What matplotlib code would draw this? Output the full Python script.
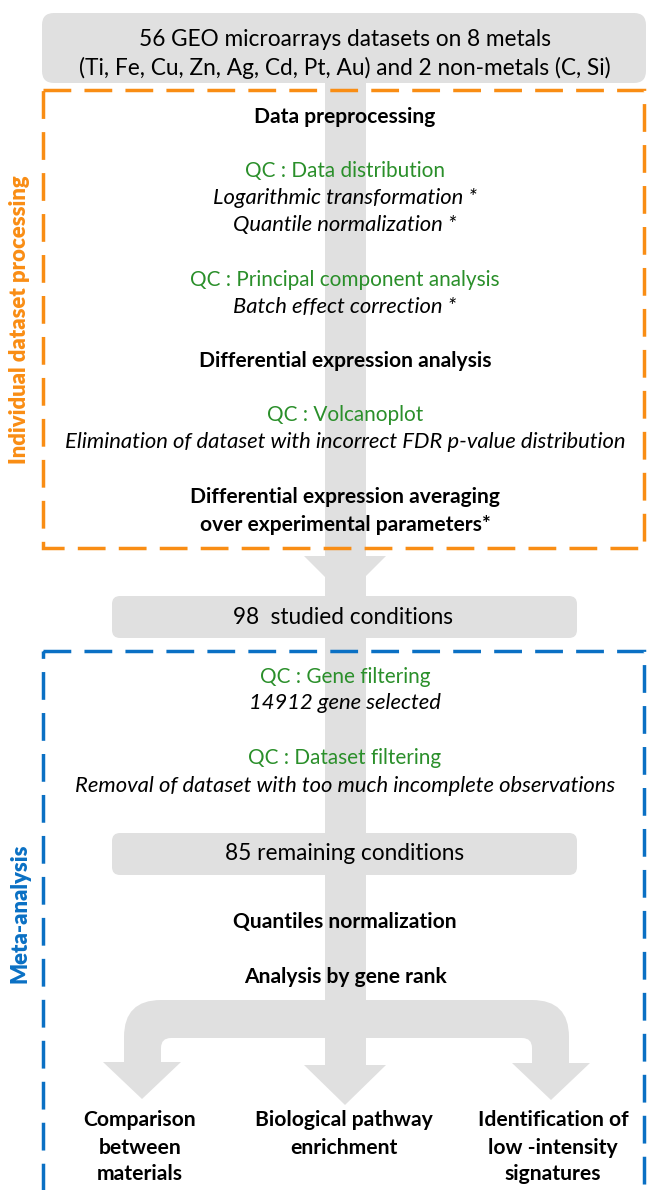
import matplotlib
matplotlib.use("Agg")
import matplotlib.pyplot as plt
from matplotlib.patches import FancyBboxPatch, Rectangle, Polygon, PathPatch
from matplotlib.path import Path

# ---------------- content ----------------
top_lines = ["56 GEO microarrays datasets on 8 metals",
             "(Ti, Fe, Cu, Zn, Ag, Cd, Pt, Au) and 2 non-metals (C, Si)"]
orange_lines = [("Data preprocessing", "bold"),
                ("QC : Data distribution", "qc"),
                ("Logarithmic transformation *", "it"),
                ("Quantile normalization *", "it"),
                ("QC : Principal component analysis", "qc"),
                ("Batch effect correction *", "it"),
                ("Differential expression analysis", "bold"),
                ("QC : Volcanoplot", "qc"),
                ("Elimination of dataset with incorrect FDR p-value distribution", "it"),
                ("Differential expression averaging", "bold"),
                ("over experimental parameters*", "bold")]
orange_y = [117, 171, 198, 225, 280, 307, 361, 415, 442, 497, 525]
mid_box_text = "98  studied conditions"
blue_lines = [("QC : Gene filtering", "qc"),
              ("14912 gene selected", "it"),
              ("QC : Dataset filtering", "qc"),
              ("Removal of dataset with too much incomplete observations", "it"),
              ("Quantiles normalization", "bold"),
              ("Analysis by gene rank", "bold")]
blue_y = [677, 703, 758, 786, 922, 977]
low_box_text = "85 remaining conditions"
outcomes = [["Comparison", "between", "materials"],
            ["Biological pathway", "enrichment"],
            ["Identification of", "low -intensity", "signatures"]]
outcome_x = [140, 344, 553]
outcome_y = [1120, 1148, 1174]
side_labels = ["Individual dataset processing", "Meta-analysis"]

# ---------------- style ----------------
FONT = "Lato"
GRAY = "#e0e0e0"
ORANGE = "#f98d14"
BLUE = "#0a70c4"
GREEN = "#2a8f2a"
BLACK = "#000000"
CX = 345

plt.rcParams['font.family'] = [FONT, 'DejaVu Sans']
plt.rcParams['lines.scale_dashes'] = False

fig = plt.figure(figsize=(6.48, 11.9), dpi=100)
ax = fig.add_axes([0, 0, 1, 1])
ax.set_xlim(0, 648)
ax.set_ylim(1190, 0)
ax.axis('off')
fig.canvas.draw()
renderer = fig.canvas.get_renderer()


def fit(text, target_px, **kw):
    t = ax.text(0, 0, text, fontsize=20, **kw)
    w = t.get_window_extent(renderer).width
    t.remove()
    return 20 * target_px / w


size_top = fit(top_lines[1], 532)
size_it = fit(orange_lines[8][0], 560, style='italic')
size_qc = fit(orange_lines[4][0], 311)
size_bold = fit(orange_lines[6][0], 292, weight='bold')
size_box = fit(low_box_text, 240)
size_out = fit(outcomes[1][0], 178, weight='bold')
size_side = fit(side_labels[0], 290, weight='heavy')

styles = {"bold": dict(weight='bold', color=BLACK, fontsize=size_bold),
          "qc": dict(color=GREEN, fontsize=size_qc),
          "it": dict(style='italic', color=BLACK, fontsize=size_it)}

# ---------------- shapes ----------------
# central stem
ax.add_patch(Rectangle((325, 80), 41, 1066 - 80, facecolor=GRAY, edgecolor='none', zorder=1))
# arrow head into "98 studied conditions"
ax.add_patch(Polygon([(304, 556), (386, 556), (345, 597)], closed=True,
                     facecolor=GRAY, edgecolor='none', zorder=1))
# branch
verts = [(124, 1063), (124, 1037), (124, 1000), (161, 1000), (532, 1000),
         (569, 1000), (569, 1037), (569, 1063), (532, 1063), (532, 1048),
         (532, 1038), (522, 1038), (171, 1038), (161, 1038), (161, 1048),
         (161, 1063), (124, 1063)]
codes = [Path.MOVETO, Path.LINETO, Path.CURVE3, Path.CURVE3, Path.LINETO,
         Path.CURVE3, Path.CURVE3, Path.LINETO, Path.LINETO, Path.LINETO,
         Path.CURVE3, Path.CURVE3, Path.LINETO, Path.CURVE3, Path.CURVE3,
         Path.LINETO, Path.CLOSEPOLY]
ax.add_patch(PathPatch(Path(verts, codes), facecolor=GRAY, edgecolor='none', zorder=1))
for (l, r, top, tip) in [(103, 181, 1062, 1099), (304, 386, 1065, 1105), (512, 590, 1063, 1100)]:
    ax.add_patch(Polygon([(l, top), (r, top), ((l + r) / 2, tip)], closed=True,
                         facecolor=GRAY, edgecolor='none', zorder=1))

# rounded boxes
for (x0, y0, x1, y1, rad) in [(42, 13, 646, 83, 12), (112, 596, 577, 638, 8), (112, 833, 577, 875, 8)]:
    ax.add_patch(FancyBboxPatch((x0 + rad, y0 + rad), x1 - x0 - 2 * rad, y1 - y0 - 2 * rad,
                                boxstyle=f"round,pad={rad}", facecolor=GRAY,
                                edgecolor='none', zorder=2))

# dashed frames
ax.add_patch(Rectangle((43, 90), 601, 458, fill=False, edgecolor=ORANGE, lw=2.5,
                       linestyle=(0, (20, 9.5)), zorder=3))
ax.add_patch(Rectangle((43, 651), 601, 560, fill=False, edgecolor=BLUE, lw=2.5,
                       linestyle=(0, (20, 9.5)), zorder=3, clip_on=True))

# ---------------- text ----------------
ax.text(CX, 39, top_lines[0], ha='center', va='center', fontsize=size_top, color=BLACK, zorder=4)
ax.text(CX, 68, top_lines[1], ha='center', va='center', fontsize=size_top, color=BLACK, zorder=4)

for (txt, kind), y in zip(orange_lines, orange_y):
    ax.text(CX, y, txt, ha='center', va='center', zorder=4, **styles[kind])
for (txt, kind), y in zip(blue_lines, blue_y):
    ax.text(CX, y, txt, ha='center', va='center', zorder=4, **styles[kind])

ax.text(343, 617, mid_box_text, ha='center', va='center', fontsize=size_box, color=BLACK, zorder=4)
ax.text(CX, 854, low_box_text, ha='center', va='center', fontsize=size_box, color=BLACK, zorder=4)

for x, lines in zip(outcome_x, outcomes):
    for txt, y in zip(lines, outcome_y):
        ax.text(x, y, txt, ha='center', va='center', fontsize=size_out,
                weight='bold', color=BLACK, zorder=4)

ax.text(20, 320, side_labels[0], rotation=90, ha='center', va='center',
        fontsize=size_side, weight='heavy', color=ORANGE, zorder=4)
ax.text(20, 913, side_labels[1], rotation=90, ha='center', va='center',
        fontsize=size_side, weight='heavy', color=BLUE, zorder=4)

fig.savefig("out.png", dpi=100, facecolor='white')
